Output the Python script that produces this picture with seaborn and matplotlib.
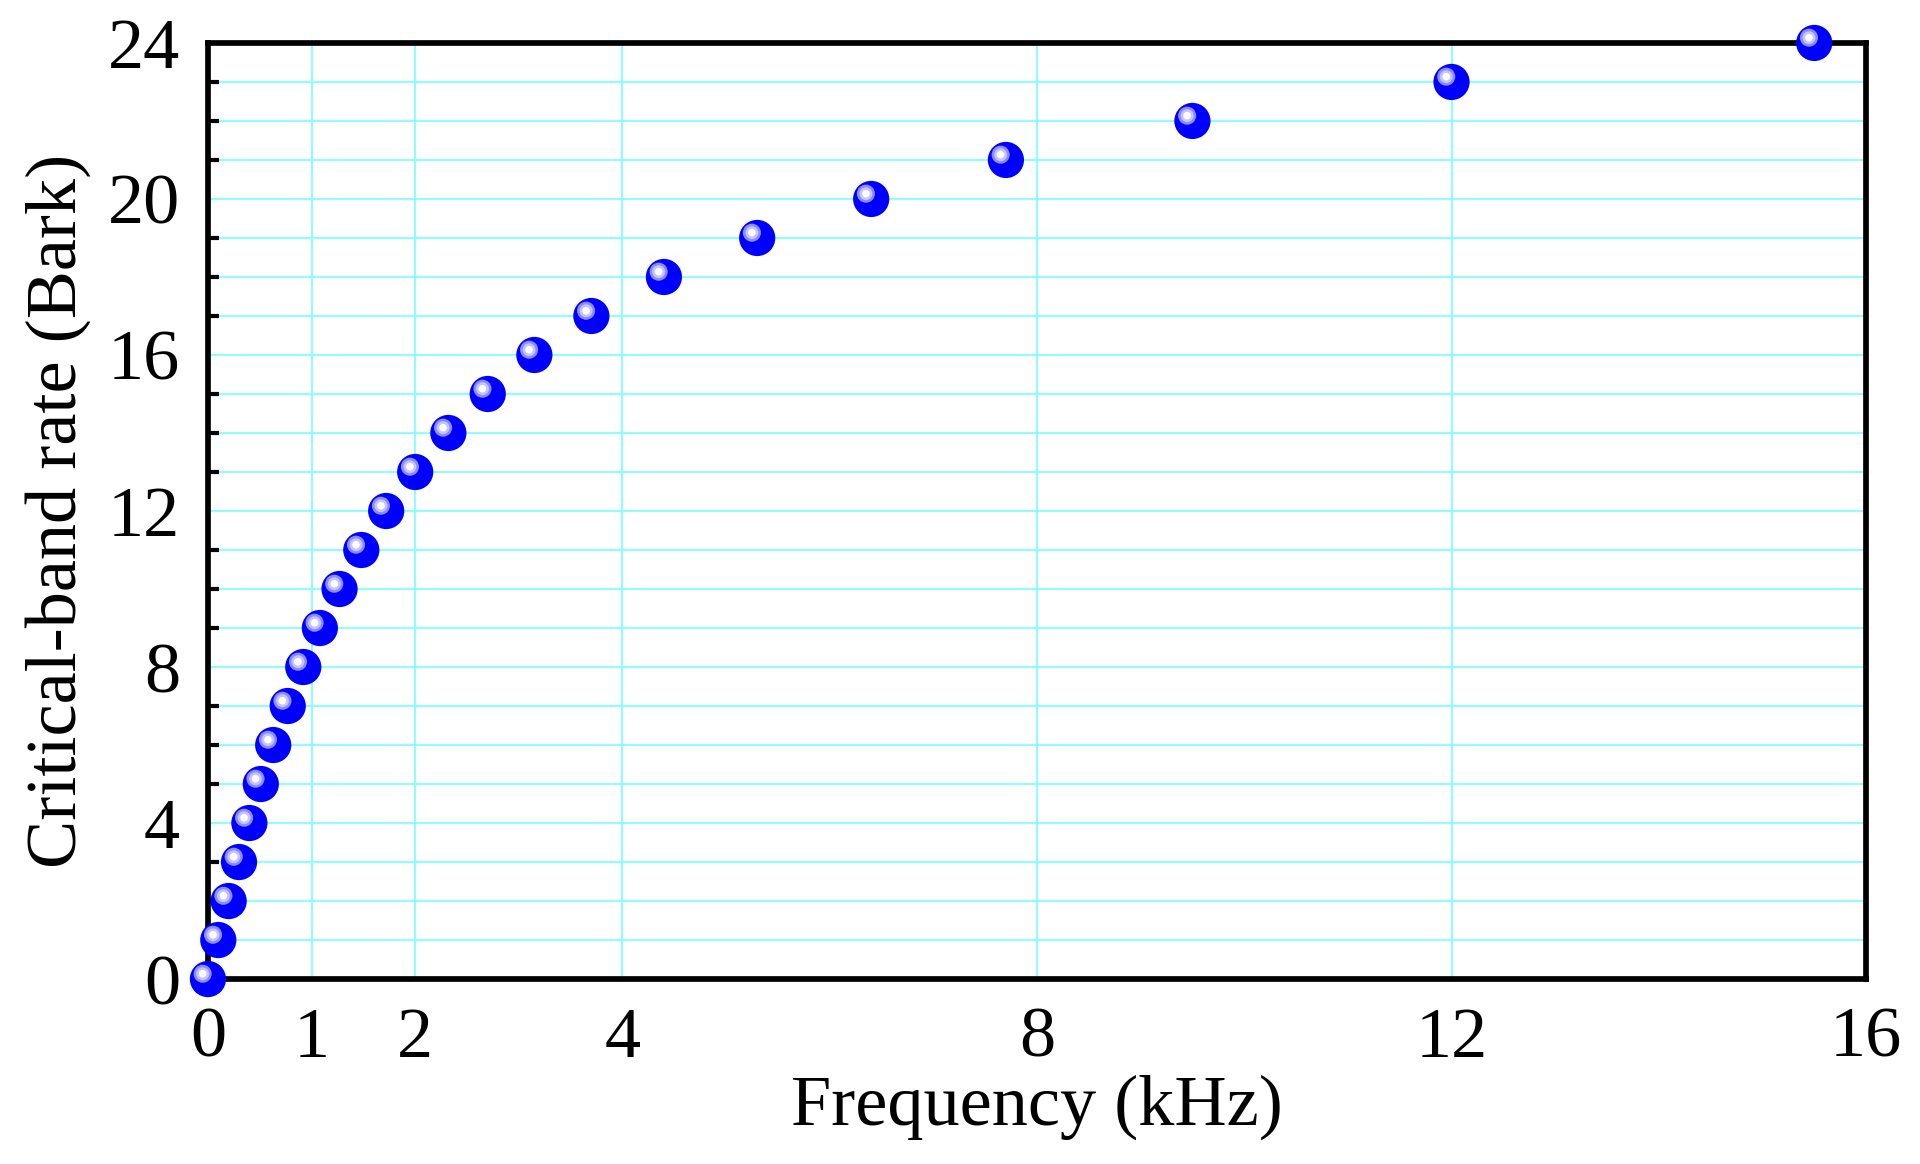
import numpy as np
import pandas as pd
import seaborn as sb
from matplotlib import pyplot as plt
from matplotlib import transforms
from matplotlib import font_manager
from matplotlib.ticker import FixedLocator, MultipleLocator

# critical band edges (Zwicker), kHz vs Bark
freq_khz = [0.0, 0.1, 0.2, 0.3, 0.4, 0.51, 0.63, 0.77, 0.92, 1.08, 1.27, 1.48,
            1.72, 2.0, 2.32, 2.7, 3.15, 3.7, 4.4, 5.3, 6.4, 7.7, 9.5, 12.0, 15.5]
bark = list(range(25))
xticks = [0, 1, 2, 4, 8, 12, 16]
yticks = [0, 4, 8, 12, 16, 20, 24]

df = pd.DataFrame({'f': freq_khz, 'z': bark})

sb.set_theme(style='white')
serif_names = sorted({f.name for f in font_manager.fontManager.ttflist
                      if 'Liberation Serif' in f.name or 'Times' in f.name})
plt.rcParams['font.family'] = 'serif'
plt.rcParams['font.serif'] = serif_names + ['DejaVu Serif']

fig = plt.figure(figsize=(19.2, 11.64), dpi=100)
ax = fig.add_axes([0.1083, 0.1589, 0.9719 - 0.1083, 0.9631 - 0.1589])

# sphere look: base ball, then lighter rings shifted up-left
layers = [(680, '#0000ff', 0.0), (170, '#8c8cff', 3.8), (85, '#c4c4ff', 3.8),
          (30, '#ffffff', 3.8)]
for s, c, off in layers:
    sb.scatterplot(data=df, x='f', y='z', s=s, color=c, edgecolor='none',
                   linewidth=0, ax=ax, clip_on=False, zorder=5, legend=False)
    coll = ax.collections[-1]
    if off:
        coll.set_offset_transform(transforms.offset_copy(
            ax.transData, fig=fig, x=-off, y=off, units='points'))

ax.set_xlim(0, 16)
ax.set_ylim(0, 24)
ax.xaxis.set_major_locator(FixedLocator(xticks))
ax.yaxis.set_major_locator(FixedLocator(yticks))
ax.yaxis.set_minor_locator(MultipleLocator(1))
ax.xaxis.set_minor_locator(FixedLocator([]))

ax.grid(True, which='major', axis='x', color='#80ffff', linewidth=1.3, zorder=0)
ax.grid(True, which='both', axis='y', color='#80ffff', linewidth=1.3, zorder=0)
ax.set_axisbelow(True)

for sp in ax.spines.values():
    sp.set_linewidth(4.1)
    sp.set_color('black')
    sp.set_zorder(4)

ax.tick_params(axis='both', which='major', direction='in', length=17, width=3,
               labelsize=52, color='black', labelcolor='black',
               top=False, right=False)
ax.tick_params(axis='x', which='major', pad=20)
ax.tick_params(axis='y', which='major', pad=20)
ax.tick_params(axis='y', which='minor', direction='in', length=8, width=3,
               left=True, right=False, color='black')

ax.set_xlabel('Frequency (kHz)', fontsize=52, color='black', labelpad=2)
ax.set_ylabel('Critical-band rate (Bark)', fontsize=52, color='black', labelpad=12)

plt.savefig('out.png', dpi=100)
